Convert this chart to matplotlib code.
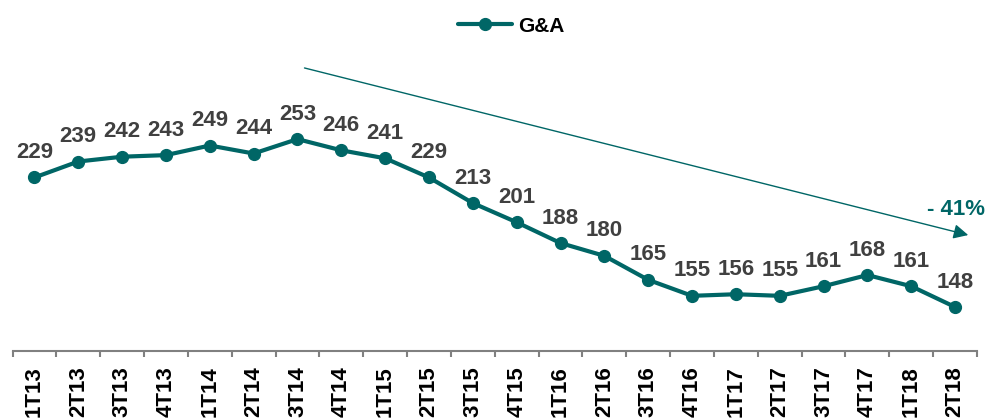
import matplotlib
matplotlib.use('Agg')
import matplotlib.pyplot as plt
import numpy as np

# 数据
quarters = ['1T13', '2T13', '3T13', '4T13', '1T14', '2T14', '3T14', '4T14',
            '1T15', '2T15', '3T15', '4T15', '1T16', '2T16', '3T16', '4T16',
            '1T17', '2T17', '3T17', '4T17', '1T18', '2T18']
ga_values = [229, 239, 242, 243, 249, 244, 253, 246, 241, 229, 213, 201,
             188, 180, 165, 155, 156, 155, 161, 168, 161, 148]

teal = '#006666'
label_grey = '#404040'

plt.rcParams['font.family'] = ['Liberation Sans', 'DejaVu Sans']

fig = plt.figure(figsize=(9.9, 4.19), dpi=100)
ax = fig.add_axes([12.5 / 990, 68 / 419, 964.5 / 990, 351 / 419])

x = np.arange(len(quarters))
line, = ax.plot(x, ga_values, color=teal, lw=3, marker='o', markersize=8.5,
                label='G&A', solid_capstyle='round')

for xi, v in zip(x, ga_values):
    ax.annotate(str(v), (xi, v), xytext=(0, 14), textcoords='offset points',
                ha='center', va='baseline', fontsize=16, fontweight='bold',
                color=label_grey)

# 趋势箭头
ax.annotate('', xy=(21.3, 193), xytext=(6.16, 297.5),
            arrowprops=dict(arrowstyle='-|>', color=teal, lw=1,
                            mutation_scale=22, shrinkA=0, shrinkB=0))
ax.text(21.03, 209, '- 41%', ha='center', va='center', fontsize=16,
        fontweight='bold', color=teal)

ax.set_xlim(-0.5, len(quarters) - 0.5)
ax.set_ylim(120.5, 340)

for s in ['top', 'right', 'left']:
    ax.spines[s].set_visible(False)
ax.spines['bottom'].set_color('#808080')
ax.spines['bottom'].set_linewidth(1.5)
ax.set_yticks([])

ax.set_xticks(x)
ax.set_xticklabels(quarters, rotation=90, fontsize=16, fontweight='bold')
ax.tick_params(axis='x', which='major', length=0, pad=11)
ax.set_xticks(np.arange(-0.5, len(quarters), 1), minor=True)
ax.tick_params(axis='x', which='minor', length=4, width=1.5, color='#808080')

ax.legend(handles=[line], loc='center', bbox_to_anchor=(511 / 990, 1 - 26 / 419),
          bbox_transform=fig.transFigure, frameon=False, handlelength=2.6,
          handletextpad=0.3, prop={'weight': 'bold', 'size': 15})

fig.savefig('out.png', dpi=100)
